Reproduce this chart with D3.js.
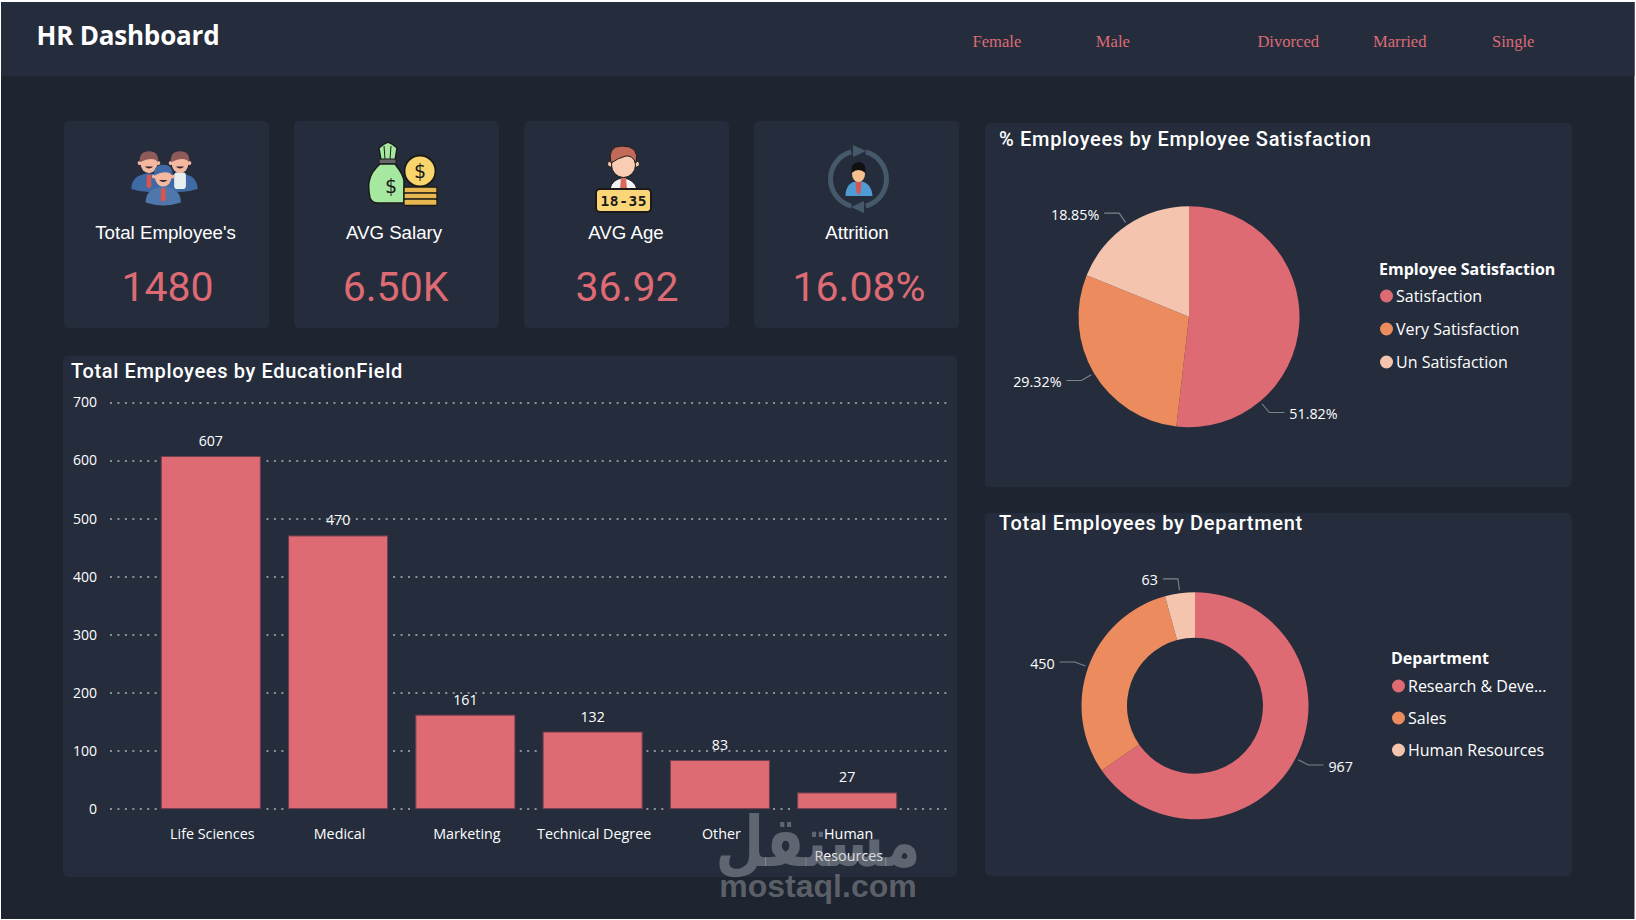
<!DOCTYPE html>
<html><head><meta charset="utf-8">
<script src="https://cdn.jsdelivr.net/npm/d3@7"></script>
<style>
html,body{margin:0;padding:0;background:#fff;overflow:hidden}
svg{display:block}
</style></head><body><svg id="c" width="1636" height="920"></svg>
<script>
// ---- data ----
const eduFields = ["Life Sciences","Medical","Marketing","Technical Degree","Other","Human Resources"];
const eduCounts = [607,470,161,132,83,27];
const yTicks = [0,100,200,300,400,500,600,700];
const satNames = ["Satisfaction","Very Satisfaction","Un Satisfaction"];
const satPct = [51.82,29.32,18.85];
const deptNames = ["Research & Deve...","Sales","Human Resources"];
const deptCounts = [967,450,63];
const kpiLabels = ["Total Employee's","AVG Salary","AVG Age","Attrition"];
const kpiValues = ["1480","6.50K","36.92","16.08%"];
const slicerItems = ["Female","Male","Divorced","Married","Single"];

// ---- style ----
const BG="#1e2430", PANEL="#252d3d", RED="#de6a74", OR="#ec8b5e", PE="#f5c4af";
const palette=[RED,OR,PE];
const TITLE="Roboto, sans-serif", UI="'Open Sans', sans-serif";
const svg=d3.select("#c");

svg.append("rect").attr("x",1).attr("y",2).attr("width",1633.5).attr("height",917).attr("fill",BG);
svg.append("rect").attr("x",1).attr("y",2).attr("width",1633.5).attr("height",74).attr("fill",PANEL);

function panel(x,y,w,h){svg.append("rect").attr("x",x).attr("y",y).attr("width",w).attr("height",h).attr("rx",5).attr("fill",PANEL);}

svg.append("text").attr("x",36.5).attr("y",44.5).attr("fill","#fff").attr("font-family",UI)
  .attr("font-weight",700).attr("font-size",26).attr("letter-spacing",-0.2).text("HR Dashboard");

const slicerX=[972.5,1095.8,1257.4,1373,1492];
svg.selectAll("text.sl").data(slicerItems).join("text").attr("class","sl")
  .attr("x",(d,i)=>slicerX[i]).attr("y",47).attr("fill",RED)
  .attr("font-family","'Liberation Serif', serif").attr("font-size",16.6).text(d=>d);

// ---- KPI cards ----
const cardX=[64,294,524,754], labelCx=[165.6,394,626,857], valueCx=[167.5,395.6,627,859];
kpiLabels.forEach((l,i)=>{
  panel(cardX[i],121,205,207);
  svg.append("text").attr("x",labelCx[i]).attr("y",239).attr("text-anchor","middle").attr("fill","#fff")
    .attr("font-family","'Liberation Sans', sans-serif").attr("font-size",18.7).text(l);
  svg.append("text").attr("x",valueCx[i]).attr("y",301).attr("text-anchor","middle").attr("fill",RED)
    .attr("font-family",TITLE).attr("font-weight",400).attr("font-size",41).text(kpiValues[i]);
});

// ---- icons (decorative) ----
function person(g,cx,cy,hair,suit,tie,skin,shirt){
  g.append("path").attr("d",`M${cx-21},${cy+32} Q${cx-21},${cy+15} ${cx},${cy+13} Q${cx+21},${cy+15} ${cx+21},${cy+32} Q${cx},${cy+39} ${cx-21},${cy+32}Z`).attr("fill",suit);
  if(shirt) g.append("rect").attr("x",cx-7).attr("y",cy+12).attr("width",14).attr("height",20).attr("rx",4).attr("fill",shirt);
  g.append("circle").attr("cx",cx-11).attr("cy",cy+1).attr("r",2.5).attr("fill",skin);
  g.append("circle").attr("cx",cx+11).attr("cy",cy+1).attr("r",2.5).attr("fill",skin);
  g.append("ellipse").attr("cx",cx).attr("cy",cy+1).attr("rx",10).attr("ry",12).attr("fill",skin);
  g.append("path").attr("d",`M${cx-11},${cy} Q${cx-12},${cy-13} ${cx},${cy-13} Q${cx+12},${cy-13} ${cx+11},${cy} Q${cx+5},${cy-8} ${cx-11},${cy}Z`).attr("fill",hair);
  g.append("path").attr("d",`M${cx-5},${cy+5} Q${cx},${cy+10} ${cx+5},${cy+5}`).attr("fill","#3a2530");
  if(tie) g.append("path").attr("d",`M${cx-2.5},${cy+15} L${cx+2.5},${cy+15} L${cx+3},${cy+28} L${cx},${cy+32} L${cx-3},${cy+28}Z`).attr("fill",tie);
}
const ic1=svg.append("g").attr("transform","translate(164.5,174) scale(0.84) translate(-164.5,-174)");
person(ic1,146,160,"#8f5a5a","#3f6aa5","#d9534f","#f4b8a0");
person(ic1,183,160,"#8f5a5a","#3f6aa5",null,"#f4b8a0","#e8edf0");
person(ic1,163,176,"#3f6aa5","#4f77ac","#d9534f","#f4b8a0");

const ic2=svg.append("g");
const K="#1a1a1a";
ic2.append("path").attr("d","M388,142 l-4,2 l-5,4 l2,12 h14 l2,-12 l-5,-4 Z").attr("fill","#a6e8a0").attr("stroke",K).attr("stroke-width",1.4);
ic2.append("path").attr("d","M384,146 l1,13 M391,146 l-1,13").attr("stroke",K).attr("stroke-width",1).attr("fill","none");
ic2.append("rect").attr("x",379).attr("y",159).attr("width",17).attr("height",5).attr("rx",1.5).attr("fill","#666").attr("stroke",K);
ic2.append("path").attr("d","M380,164 C366,176 368,188 370,198 Q372,203 378,203 H404 V180 C402,172 398,168 395,164 Z").attr("fill","#a6e8a0").attr("stroke",K).attr("stroke-width",1.6);
ic2.append("text").attr("x",391).attr("y",193).attr("text-anchor","middle").attr("font-family","'DejaVu Sans'").attr("font-size",19).attr("fill",K).text("$");
ic2.append("circle").attr("cx",420).attr("cy",171).attr("r",15.5).attr("fill","#fad56e").attr("stroke",K).attr("stroke-width",1.8);
ic2.append("text").attr("x",420).attr("y",178).attr("text-anchor","middle").attr("font-family","'DejaVu Sans'").attr("font-size",19).attr("fill",K).text("$");
[187,193,199].forEach(y=>ic2.append("rect").attr("x",404).attr("y",y).attr("width",33).attr("height",6.5).attr("rx",1.5).attr("fill","#e8b850").attr("stroke",K).attr("stroke-width",1.3));

const ic3=svg.append("g");
ic3.append("path").attr("d","M610,189 Q612,179 623,178 Q634,179 637,189Z").attr("fill","#f3f4f5").attr("stroke",K);
ic3.append("path").attr("d","M621,178 h5 l1,11 h-7Z").attr("fill","#d9695a");
ic3.append("circle").attr("cx",610.5).attr("cy",164).attr("r",3).attr("fill","#f8cdb4").attr("stroke",K);
ic3.append("circle").attr("cx",636.5).attr("cy",164).attr("r",3).attr("fill","#f8cdb4").attr("stroke",K);
ic3.append("ellipse").attr("cx",623.5).attr("cy",165).attr("rx",12).attr("ry",12.5).attr("fill","#f8cdb4").attr("stroke",K);
ic3.append("path").attr("d","M611,163 Q607,146 622,146 Q640,146 636,163 Q632,155 626,156 Q618,158 611,163Z").attr("fill","#c26a5a").attr("stroke",K);
ic3.append("rect").attr("x",596).attr("y",189).attr("width",55).attr("height",23).attr("rx",4).attr("fill","#fbd678").attr("stroke",K).attr("stroke-width",2);
ic3.append("text").attr("x",623.5).attr("y",206).attr("text-anchor","middle").attr("font-family","'DejaVu Sans Mono'").attr("font-weight",700).attr("font-size",14.5).attr("fill",K).attr("textLength",46).text("18-35");

const ic4=svg.append("g");
const ringArc=d3.arc().innerRadius(25.5).outerRadius(30.5);
[[15,165],[195,345]].forEach(([a,b])=>ic4.append("path").attr("transform","translate(858.5,179)")
  .attr("d",ringArc({startAngle:a*Math.PI/180,endAngle:b*Math.PI/180})).attr("fill","#46596a"));
ic4.append("path").attr("d","M853,145 L866,151 L853,157Z").attr("fill","#46596a");
ic4.append("path").attr("d","M864,201 L851,207 L864,213Z").attr("fill","#46596a");
ic4.append("path").attr("d","M845.5,196 Q845.5,182 858.5,181 Q871.5,182 872.5,196Z").attr("fill","#4f9bd5");
ic4.append("ellipse").attr("cx",858.5).attr("cy",174).attr("rx",6.5).attr("ry",8).attr("fill","#f6c08e");
ic4.append("path").attr("d","M851.5,173 Q850.5,162 858.5,162 Q866.5,162 865.5,173 Q858.5,167 851.5,173Z").attr("fill","#111");
ic4.append("path").attr("d","M855.5,182 h6 l-1,10 l-2,3 l-2,-3Z").attr("fill","#d9534f");

// ---- bar chart ----
panel(63,356,894,521);
svg.append("text").attr("x",71).attr("y",378).attr("fill","#fff").attr("font-family",TITLE).attr("font-weight",500).attr("font-size",20).attr("letter-spacing",0.65).text("Total Employees by EducationField");

const y=d3.scaleLinear().domain([0,700]).range([808.6,402.5]);
const x=d3.scaleBand().domain(eduFields).range([110,948]).paddingInner(0.222).paddingOuter(0.403);
const yAxis=svg.append("g").attr("transform","translate(110,0)")
  .call(d3.axisLeft(y).tickValues(yTicks).tickSize(-838).tickPadding(13));
yAxis.select(".domain").remove();
yAxis.selectAll("line").attr("stroke","#8a919c").attr("stroke-width",2).attr("stroke-dasharray","2 5.45");
yAxis.selectAll("text").attr("fill","#fff").attr("font-family",UI).attr("font-size",14);

svg.append("g").selectAll("rect").data(eduCounts).join("rect")
  .attr("x",(d,i)=>x(eduFields[i])).attr("width",x.bandwidth())
  .attr("y",d=>y(d)).attr("height",d=>y(0)-y(d)).attr("fill",RED)
  .attr("stroke",PANEL).attr("stroke-width",5).attr("paint-order","stroke");
svg.append("g").selectAll("rect").data(eduCounts).join("rect")
  .attr("x",(d,i)=>x(eduFields[i])).attr("width",x.bandwidth())
  .attr("y",d=>y(d)).attr("height",d=>y(0)-y(d)).attr("fill",RED)
  .attr("stroke","#6d3d4b").attr("stroke-width",1);

svg.append("g").selectAll("text").data(eduCounts).join("text")
  .attr("x",(d,i)=>x(eduFields[i])+x.bandwidth()/2).attr("y",d=>y(d)-10.5)
  .attr("text-anchor","middle").attr("fill","#fff").attr("font-family",UI).attr("font-size",14.2).text(d=>d);

const xAxis=svg.append("g").attr("transform","translate(0,809)").call(d3.axisBottom(x).tickSize(0).tickPadding(20));
xAxis.select(".domain").remove();
xAxis.selectAll("text").attr("fill","#fff").attr("font-family",UI).attr("font-size",14.3)
  .attr("dx",1.5)
  .each(function(d){
    if(d==="Human Resources"){
      const t=d3.select(this), dy=t.attr("dy"), xx=t.attr("x")||0; t.text(null);
      ["Human","Resources"].forEach((w,i)=>t.append("tspan").attr("x",xx).attr("dx",1.5).attr("dy",i?"22px":dy).text(w));
    }
  });

// ---- pies ----
function pieChart(o){
  panel(985,o.py,587,o.ph);
  svg.append("text").attr("x",999).attr("y",o.ty).attr("fill","#fff").attr("font-family",TITLE).attr("font-weight",500).attr("font-size",20).attr("letter-spacing",0.68).text(o.title);
  const g=svg.append("g").attr("transform",`translate(${o.cx},${o.cy})`);
  const pie=d3.pie().sort(null).value(d=>d)(o.values);
  const arc=d3.arc().innerRadius(o.ir).outerRadius(o.r);
  g.selectAll("path.s").data(pie).join("path").attr("class","s").attr("d",arc).attr("fill",(d,i)=>palette[i]);
  pie.forEach((p,i)=>{
    const ang=o.labelAngle&&o.labelAngle[i]!=null?o.labelAngle[i]*Math.PI/180:(p.startAngle+p.endAngle)/2;
    const pt=r=>[Math.sin(ang)*r,-Math.cos(ang)*r];
    const a=pt(o.r+3), b=pt(o.r+14.5), side=Math.sin(ang)>0?1:-1;
    const c=[b[0]+side*15,b[1]];
    g.append("path").attr("d",d3.line()([a,b,c])).attr("fill","none").attr("stroke","#7d838d").attr("stroke-width",1.1);
    g.append("text").attr("x",c[0]+side*5).attr("y",c[1]+6.5).attr("text-anchor",side>0?"start":"end")
      .attr("fill","#fff").attr("font-family",UI).attr("font-size",14.3).text(o.labels[i]);
  });
  svg.append("text").attr("x",o.lx).attr("y",o.ly).attr("fill","#fff").attr("font-family",UI).attr("font-weight",700).attr("font-size",16).text(o.legendTitle);
  o.names.forEach((n,i)=>{
    const yy=o.ly+o.l0+i*o.ls;
    svg.append("circle").attr("cx",o.lx+7.5).attr("cy",yy).attr("r",6.5).attr("fill",palette[i]);
    svg.append("text").attr("x",o.lx+17).attr("y",yy+5.5).attr("fill","#fff").attr("font-family",UI).attr("font-size",16).text(n);
  });
}
pieChart({py:123,ph:364,ty:146,title:"% Employees by Employee Satisfaction",cx:1189,cy:316.8,r:110.5,ir:0,values:satPct,
  labels:satPct.map(d=>d.toFixed(2)+"%"),labelAngle:[140,null,null],names:satNames,legendTitle:"Employee Satisfaction",lx:1379,ly:275,l0:21,ls:33});
pieChart({py:513,ph:363,ty:530,title:"Total Employees by Department",cx:1195,cy:705.7,r:113.5,ir:68,values:deptCounts,
  labels:deptCounts.map(String),names:deptNames,legendTitle:"Department",lx:1391,ly:664,l0:22,ls:32});

// ---- watermark ----
const wm=svg.append("g").attr("fill","#a9adb2").attr("fill-opacity",0.45).attr("text-anchor","middle");
wm.append("text").attr("transform","translate(818,866) scale(0.8,1)").attr("font-family","'DejaVu Sans'").attr("font-weight",700).attr("font-size",70).attr("direction","rtl").text("مستقل");
wm.append("text").attr("x",818).attr("y",897).attr("font-family","'Liberation Sans'").attr("font-weight",700).attr("font-size",32).text("mostaql.com");
</script></body></html>
